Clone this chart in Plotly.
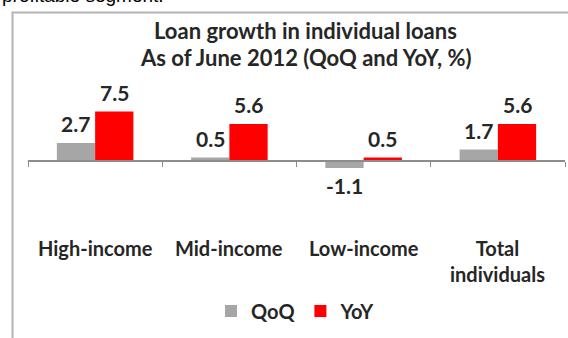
import plotly.graph_objects as go

# Loan growth by income segment, June 2012
categories = ["High-income", "Mid-income", "Low-income", "Total individuals"]
category_labels = ["High-income", "Mid-income", "Low-income", "Total<br>individuals"]
series_names = ["QoQ", "YoY"]
qoq = [2.7, 0.5, -1.1, 1.7]
yoy = [7.5, 5.6, 0.5, 5.6]
value_labels_qoq = ["2.7", "0.5", "-1.1", "1.7"]
value_labels_yoy = ["7.5", "5.6", "0.5", "5.6"]
title_lines = ["Loan growth in individual loans", "As of June 2012 (QoQ and YoY, %)"]

W, H = 568, 338
FONT = "Lato"
TEXT = "#262626"
GRAY = "#A6A6A6"
RED = "#FF0000"

# plot area in pixels
px_left, px_right = 28, 565
px_top, px_bottom = 75.5, 200.0
y_min, y_max = -6.0, 13.0
bargap = 0.43


def fx(px):
    return px / W


def fy(py):
    return 1 - py / H


dom_y = [fy(px_bottom), fy(px_top)]
zero_pos = dom_y[0] + (0 - y_min) / (y_max - y_min) * (dom_y[1] - dom_y[0])

fig = go.Figure()
fig.add_trace(go.Bar(x=categories, y=qoq, name=series_names[0],
                     marker=dict(color=GRAY, line=dict(width=0))))
fig.add_trace(go.Bar(x=categories, y=yoy, name=series_names[1],
                     marker=dict(color=RED, line=dict(width=0))))

# value labels above / below each bar
cat_w = (px_right - px_left) / len(categories)
bar_w = cat_w * (1 - bargap) / 2
annotations = []
for sign, vals, labels in ((-1, qoq, value_labels_qoq), (1, yoy, value_labels_yoy)):
    for c, v, lab in zip(categories, vals, labels):
        annotations.append(dict(
            x=c, y=v, xref="x", yref="y", text=lab, showarrow=False,
            xshift=sign * bar_w / 2, yshift=19 if v >= 0 else -18,
            yanchor="middle", xanchor="center",
            font=dict(family=FONT, size=21, color=TEXT, weight="bold")))

# category names below the chart
for c, lab in zip(categories, category_labels):
    annotations.append(dict(
        x=c, y=fy(234), xref="x", yref="paper", text=lab, showarrow=False,
        yanchor="top", xanchor="center", align="center",
        font=dict(family=FONT, size=20, color=TEXT, weight="bold")))

# chart title, two lines
for line, py in zip(title_lines, (30, 58)):
    annotations.append(dict(
        x=fx(306), y=fy(py), xref="paper", yref="paper", text=line,
        showarrow=False, xanchor="center", yanchor="middle",
        font=dict(family=FONT, size=22, color=TEXT, weight="bold")))

# surrounding document text
annotations.append(dict(
    x=fx(0), y=fy(-5), xref="paper", yref="paper", text="profitable segment.",
    showarrow=False, xanchor="left", yanchor="middle",
    font=dict(family="Liberation Sans", size=19, color="#000000")))

fig.update_layout(
    width=W, height=H,
    margin=dict(l=0, r=0, t=0, b=0),
    paper_bgcolor="white", plot_bgcolor="white",
    barmode="group", bargap=bargap, bargroupgap=0,
    xaxis=dict(domain=[fx(px_left), fx(px_right)], anchor="free", position=zero_pos,
               showline=True, linecolor="#8C8C8C", linewidth=2,
               ticks="outside", ticklen=5, tickwidth=1, tickcolor="#8C8C8C",
               tickson="boundaries", showticklabels=False, showgrid=False,
               zeroline=False, fixedrange=True),
    yaxis=dict(domain=dom_y, range=[y_min, y_max], visible=False,
               showgrid=False, zeroline=False),
    legend=dict(orientation="h", x=fx(296), y=fy(311), xanchor="center",
                yanchor="middle", font=dict(family=FONT, size=20, color=TEXT,
                                            weight="bold"),
                bgcolor="rgba(0,0,0,0)"),
    annotations=annotations,
    shapes=[dict(type="rect", xref="paper", yref="paper",
                 x0=fx(12.5), x1=1.05, y0=-0.05, y1=fy(12.5),
                 line=dict(color="#B4B4B4", width=2), layer="below")],
)

fig.write_html("out.html")
